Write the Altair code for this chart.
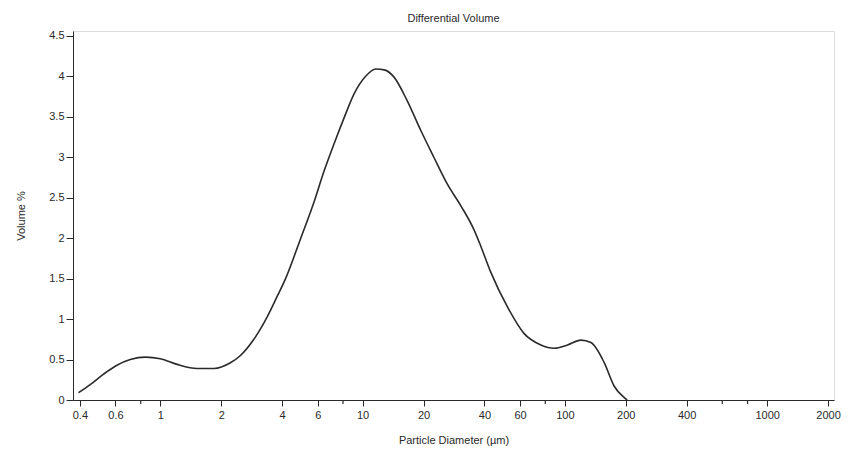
import altair as alt
import pandas as pd

# particle diameter (µm) and differential volume (%)
diameter = [0.394, 0.45, 0.524, 0.61, 0.71, 0.843, 1.0, 1.21, 1.52, 1.84, 2.22, 2.49,
            2.90, 3.38, 3.78, 4.16, 4.93, 5.74, 6.43, 7.21, 8.08, 9.06, 10.35, 11.6,
            12.8, 14.3, 16.6, 19.4, 22.5, 26.2, 30.6, 35.6, 38.4, 43.0, 52.0, 62.9,
            76.1, 88.5, 103, 120, 134.5, 156.6, 175.4, 196.6, 203]
volume = [0.09, 0.19, 0.32, 0.43, 0.50, 0.53, 0.51, 0.44, 0.39, 0.39, 0.46, 0.55,
          0.75, 1.03, 1.28, 1.50, 1.99, 2.44, 2.82, 3.16, 3.48, 3.78, 4.00, 4.09,
          4.08, 3.99, 3.70, 3.33, 3.00, 2.67, 2.40, 2.10, 1.90, 1.58, 1.15, 0.82,
          0.68, 0.64, 0.68, 0.74, 0.71, 0.46, 0.17, 0.03, 0.0]

x_ticks = [0.4, 0.6, 1, 2, 4, 6, 10, 20, 40, 60, 100, 200, 400, 1000, 2000]
x_minor = [0.8, 8, 80, 600, 800]
y_ticks = [0, 0.5, 1, 1.5, 2, 2.5, 3, 3.5, 4, 4.5]

INK = "#2a2a2a"
FONT = "Liberation Sans"

df = pd.DataFrame({"d": diameter, "v": volume})
minor_df = pd.DataFrame({"d": x_minor})

xscale = alt.Scale(type="log", domain=[0.37, 2140], nice=False)
yscale = alt.Scale(domain=[0, 4.56], nice=False, zero=False)

line = alt.Chart(df).mark_line(color=INK, strokeWidth=1.6, interpolate="monotone").encode(
    x=alt.X("d:Q", scale=xscale,
            axis=alt.Axis(values=x_ticks, format="~g", title="Particle Diameter (µm)",
                          grid=False, tickSize=6, tickColor=INK, domainColor=INK,
                          labelColor=INK, titleColor=INK, labelFontSize=11,
                          titleFontSize=11, titleFontWeight="normal", labelPadding=3,
                          titlePadding=14, labelFont=FONT, titleFont=FONT,
                          labelFlush=False, labelOverlap=False)),
    y=alt.Y("v:Q", scale=yscale,
            axis=alt.Axis(values=y_ticks, format="~g", title="Volume %",
                          grid=False, tickSize=7, tickColor=INK, domainColor=INK,
                          labelColor=INK, titleColor=INK, labelFontSize=11,
                          titleFontSize=11, titleFontWeight="normal", labelPadding=2,
                          titlePadding=22, labelFont=FONT, titleFont=FONT,
                          labelFlush=False, labelOverlap=False)),
)

minor = alt.Chart(minor_df).mark_rule(color=INK, strokeWidth=1.2).encode(
    x=alt.X("d:Q", scale=xscale),
    y=alt.value(369),
    y2=alt.value(373),
)

chart = alt.layer(line, minor).properties(
    width=761,
    height=369,
    title=alt.TitleParams("Differential Volume", fontSize=11, font=FONT,
                          fontWeight="normal", color=INK, anchor="middle", offset=6),
    autosize=alt.AutoSizeParams(type="none"),
    padding={"left": 73, "top": 31, "right": 27, "bottom": 59},
).configure_view(stroke=INK, strokeWidth=1.2).configure(background="white")

chart.save("out.html", embed_options={"renderer": "svg", "actions": False})
